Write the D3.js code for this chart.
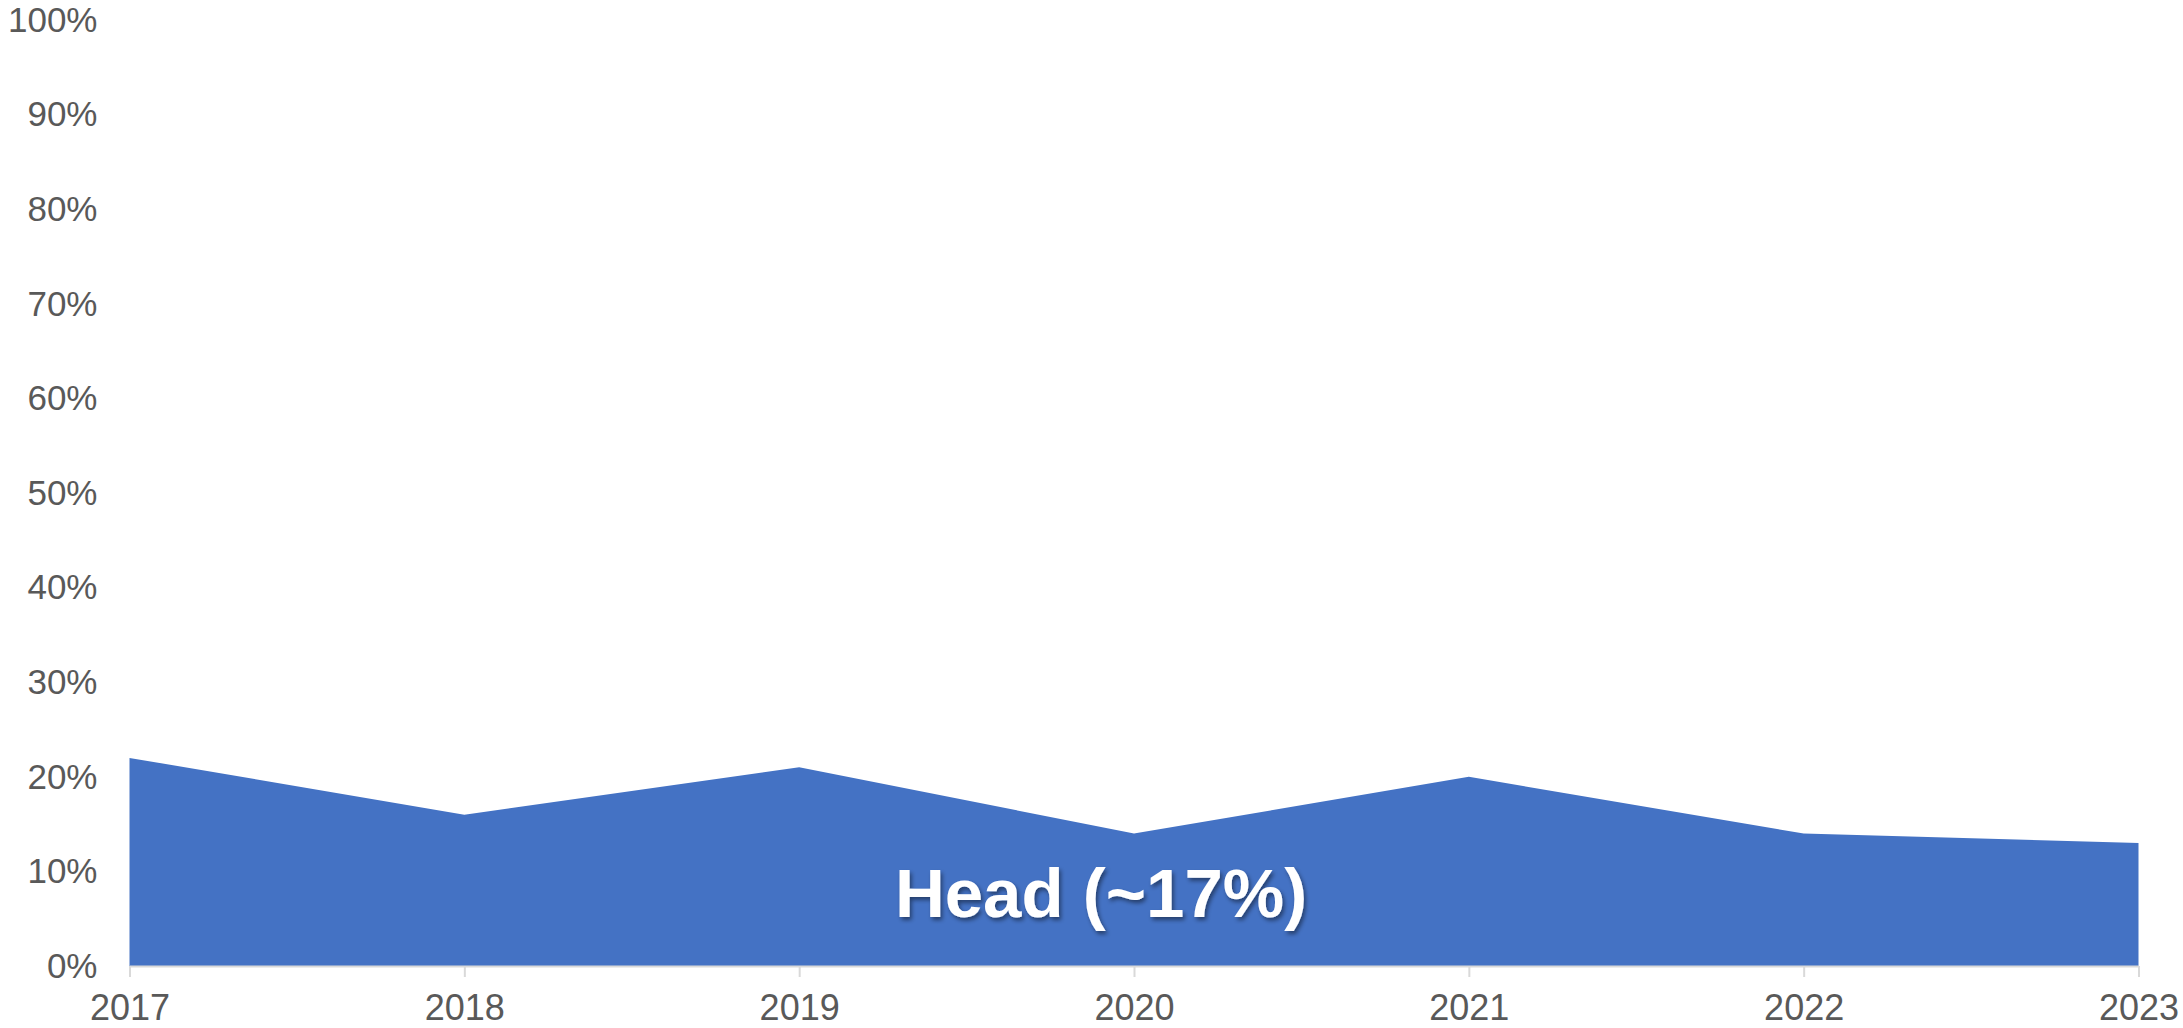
<!DOCTYPE html>
<html>
<head>
<meta charset="utf-8">
<script src="https://cdn.jsdelivr.net/npm/d3@7"></script>
<style>
  html, body { margin: 0; padding: 0; background: #ffffff; }
  svg { display: block; }
</style>
</head>
<body>
<svg id="chart" width="2183" height="1028"></svg>
<script>
// Share of the "Head" segment per year, in percent
const years = ["2017", "2018", "2019", "2020", "2021", "2022", "2023"];
const headShare = [22, 16, 21, 14, 20, 14, 13];
const yTicks = [0, 10, 20, 30, 40, 50, 60, 70, 80, 90, 100];
const areaLabel = "Head (~17%)";

const svg = d3.select("#chart");
const plotLeft = 129.5, plotRight = 2138.5, plotTop = 20, plotBottom = 966;

const x = d3.scalePoint().domain(years).range([plotLeft, plotRight]);
const y = d3.scaleLinear().domain([0, 100]).range([plotBottom, plotTop]);

// filled area
const area = d3.area()
  .x((d, i) => x(years[i]))
  .y0(y(0))
  .y1(d => y(d));

svg.append("path")
  .datum(headShare)
  .attr("d", area)
  .attr("fill", "#4472C4");

// y axis labels only
const yAxis = d3.axisLeft(y)
  .tickValues(yTicks)
  .tickFormat(d => d + "%")
  .tickSize(0)
  .tickPadding(32);

const gy = svg.append("g")
  .attr("transform", `translate(${plotLeft},0)`)
  .call(yAxis);
gy.select(".domain").remove();
gy.selectAll("text")
  .attr("fill", "#595959")
  .style("font-family", "'Liberation Sans', Arial, sans-serif")
  .style("font-size", "35px");

// x axis with light baseline and ticks
const xAxis = d3.axisBottom(x)
  .tickSize(11)
  .tickPadding(17)
  .tickSizeOuter(0);

const gx = svg.append("g")
  .attr("transform", `translate(0,${plotBottom})`)
  .call(xAxis);
gx.select(".domain").attr("stroke", "#d9d9d9").attr("stroke-width", 2);
gx.selectAll(".tick line").attr("stroke", "#d9d9d9").attr("stroke-width", 2);
gx.selectAll("text")
  .attr("fill", "#595959")
  .style("font-family", "'Liberation Sans', Arial, sans-serif")
  .style("font-size", "36px");

// label with soft drop shadow
const defs = svg.append("defs");
const f = defs.append("filter").attr("id", "shadow")
  .attr("x", "-10%").attr("y", "-20%").attr("width", "120%").attr("height", "140%");
f.append("feDropShadow")
  .attr("dx", 2).attr("dy", 3).attr("stdDeviation", 2)
  .attr("flood-color", "#000000").attr("flood-opacity", 0.45);

svg.append("text")
  .attr("x", 1101)
  .attr("y", 917)
  .attr("text-anchor", "middle")
  .attr("fill", "#ffffff")
  .attr("filter", "url(#shadow)")
  .style("font-family", "'Liberation Sans', Arial, sans-serif")
  .style("font-weight", "bold")
  .style("font-size", "69px")
  .text(areaLabel);
</script>
</body>
</html>
